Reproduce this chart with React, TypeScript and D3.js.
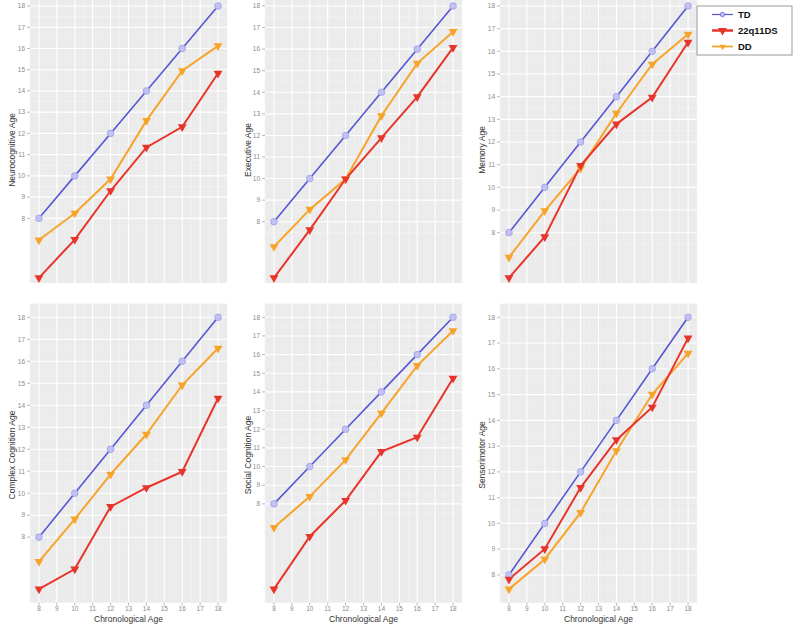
import React from "react";
import * as d3 from "d3";

const ages = [8, 10, 12, 14, 16, 18];
const domainNames = [
  "Neurocognitive Age",
  "Executive Age",
  "Memory Age",
  "Complex Cognition Age",
  "Social Cognition Age",
  "Sensorimotor Age",
];
const tdValues = [8, 10, 12, 14, 16, 18];
const q22Neuro = [5.2, 7.0, 9.3, 11.34, 12.31, 14.83];
const q22Exec = [5.4, 7.62, 9.98, 11.89, 13.79, 16.07];
const q22Memory = [6.01, 7.82, 10.96, 12.79, 13.97, 16.4];
const q22Complex = [5.64, 6.55, 9.39, 10.25, 10.98, 14.32];
const q22Social = [3.43, 6.25, 8.18, 10.8, 11.57, 14.73];
const q22Sensori = [7.83, 9.01, 11.39, 13.24, 14.51, 17.19];
const ddNeuro = [6.98, 8.24, 9.85, 12.6, 14.95, 16.12];
const ddExec = [6.84, 8.57, 9.98, 12.91, 15.34, 16.81];
const ddMemory = [6.91, 8.96, 10.84, 13.27, 15.43, 16.75];
const ddComplex = [6.89, 8.82, 10.86, 12.68, 14.92, 16.59];
const ddSocial = [6.73, 8.39, 10.36, 12.86, 15.41, 17.28];
const ddSensori = [7.45, 8.61, 10.42, 12.82, 15.01, 16.6];
const xTicks = [8, 9, 10, 11, 12, 13, 14, 15, 16, 17, 18];
const yTicks = [8, 9, 10, 11, 12, 13, 14, 15, 16, 17, 18];
const seriesNames = ["TD", "22q11DS", "DD"];

const q22All = [q22Neuro, q22Exec, q22Memory, q22Complex, q22Social, q22Sensori];
const ddAll = [ddNeuro, ddExec, ddMemory, ddComplex, ddSocial, ddSensori];

const COL_LEFT = [30, 265, 500];
const PANEL_W = 197;
const PANEL_H = 299;
const ROW_TOP = [-7.6, 303.7];
const TITLE_X = [12, 248, 482];
const TITLE_Y = [150, 455];

const BLUE = "#5656d6";
const RED = "#e8352b";
const ORANGE = "#f7a52a";
const FONT = "'Liberation Sans', Arial, Helvetica, sans-serif";

const triDown = d3.symbol().type(d3.symbolTriangle).size(34)() as string;
const triDownSmall = d3.symbol().type(d3.symbolTriangle).size(18)() as string;

function Panel({ idx }: { idx: number }) {
  const row = Math.floor(idx / 3);
  const col = idx % 3;
  const left = COL_LEFT[col];
  const top = ROW_TOP[row];
  const x = d3.scaleLinear().domain([7.5, 18.5]).range([left, left + PANEL_W]);
  const all = [...tdValues, ...q22All[idx], ...ddAll[idx]];
  const mn = d3.min(all) as number;
  const mx = d3.max(all) as number;
  const r = mx - mn;
  const y = d3
    .scaleLinear()
    .domain([mn - 0.05 * r, mx + 0.05 * r])
    .range([top + PANEL_H, top]);
  const [y0, y1] = y.domain();
  const minorY: number[] = [];
  for (let v = 7.5; v <= 18.5; v += 1) if (v > y0 && v < y1) minorY.push(v);
  const minorX: number[] = [];
  for (let v = 7.5; v <= 18.5; v += 1) minorX.push(v);
  const line = d3
    .line<[number, number]>()
    .x((d) => x(d[0]))
    .y((d) => y(d[1]));
  const mk = (vals: number[]) => ages.map((a, i) => [a, vals[i]] as [number, number]);
  const series = [
    { vals: tdValues, color: BLUE, w: 1.6 },
    { vals: ddAll[idx], color: ORANGE, w: 2 },
    { vals: q22All[idx], color: RED, w: 2 },
  ];
  const clipId = `clip-${idx}`;
  return (
    <g>
      <defs>
        <clipPath id={clipId}>
          <rect x={0} y={row === 0 ? 0 : 290} width={800} height={row === 0 ? 283 : 339} />
        </clipPath>
      </defs>
      <g clipPath={`url(#${clipId})`}>
        <rect x={left} y={top} width={PANEL_W} height={PANEL_H} fill="#ebebeb" />
        {minorX.map((v) => (
          <line key={"mx" + v} x1={x(v)} x2={x(v)} y1={top} y2={top + PANEL_H} stroke="#f4f4f4" strokeWidth={0.6} />
        ))}
        {minorY.map((v) => (
          <line key={"my" + v} x1={left} x2={left + PANEL_W} y1={y(v)} y2={y(v)} stroke="#f4f4f4" strokeWidth={0.6} />
        ))}
        {xTicks.map((v) => (
          <line key={"gx" + v} x1={x(v)} x2={x(v)} y1={top} y2={top + PANEL_H} stroke="#ffffff" strokeWidth={1.1} />
        ))}
        {yTicks.map((v) => (
          <line key={"gy" + v} x1={left} x2={left + PANEL_W} y1={y(v)} y2={y(v)} stroke="#ffffff" strokeWidth={1.1} />
        ))}
        {yTicks.map((v) => (
          <g key={"ty" + v}>
            <line x1={left - 3} x2={left} y1={y(v)} y2={y(v)} stroke="#888" strokeWidth={0.6} />
            <text x={left - 5} y={y(v)} dy="0.35em" textAnchor="end" fontSize={6.5} fill="#8a8a8a" fontFamily={FONT}>
              {v}
            </text>
          </g>
        ))}
        {row === 1 &&
          xTicks.map((v) => (
            <g key={"tx" + v}>
              <line x1={x(v)} x2={x(v)} y1={top + PANEL_H} y2={top + PANEL_H + 3} stroke="#888" strokeWidth={0.6} />
              <text x={x(v)} y={top + PANEL_H + 8.5} textAnchor="middle" fontSize={6.5} fill="#8a8a8a" fontFamily={FONT}>
                {v}
              </text>
            </g>
          ))}
        {row === 1 && (
          <text x={left + PANEL_W / 2} y={top + PANEL_H + 19.5} textAnchor="middle" fontSize={8.5} fill="#333" fontFamily={FONT}>
            Chronological Age
          </text>
        )}
        <text
          transform={`translate(${TITLE_X[col]},${TITLE_Y[row]}) rotate(-90)`}
          textAnchor="middle"
          dy="0.35em"
          fontSize={8.5}
          fill="#333"
          fontFamily={FONT}
        >
          {domainNames[idx]}
        </text>
        {series.map((s, si) => (
          <path key={"l" + si} d={line(mk(s.vals)) as string} fill="none" stroke={s.color} strokeWidth={s.w} />
        ))}
        {tdValues.map((v, i) => (
          <circle key={"pc" + i} cx={x(ages[i])} cy={y(v)} r={3.3} fill="#c2c2f3" stroke="#9a9aee" strokeWidth={0.8} />
        ))}
        {ddAll[idx].map((v, i) => (
          <path key={"pd" + i} d={triDown} transform={`translate(${x(ages[i])},${y(v)}) rotate(180)`} fill={ORANGE} />
        ))}
        {q22All[idx].map((v, i) => (
          <path key={"pq" + i} d={triDown} transform={`translate(${x(ages[i])},${y(v)}) rotate(180)`} fill={RED} />
        ))}
      </g>
    </g>
  );
}

function Legend() {
  const lx = 697;
  const ly = 6;
  const keys = [
    { name: seriesNames[0], color: BLUE, w: 1.2, kind: "circle" },
    { name: seriesNames[1], color: RED, w: 2.5, kind: "tri" },
    { name: seriesNames[2], color: ORANGE, w: 1.8, kind: "small" },
  ];
  return (
    <g>
      <rect x={lx} y={ly} width={95} height={49} fill="#fff" stroke="#999" strokeWidth={1} />
      {keys.map((k, i) => {
        const cy = ly + 8.5 + i * 16;
        return (
          <g key={k.name}>
            <line x1={lx + 15} x2={lx + 36} y1={cy} y2={cy} stroke={k.color} strokeWidth={k.w} />
            {k.kind === "circle" && <circle cx={lx + 25.5} cy={cy} r={2.2} fill="#c2c2f3" stroke={k.color} strokeWidth={0.7} />}
            {k.kind === "tri" && <path d={triDown} transform={`translate(${lx + 25.5},${cy}) rotate(180)`} fill={RED} />}
            {k.kind === "small" && <path d={triDownSmall} transform={`translate(${lx + 25.5},${cy}) rotate(180)`} fill={ORANGE} />}
            <text x={lx + 41} y={cy} dy="0.35em" fontSize={9.5} fontWeight="bold" fill="#111" fontFamily={FONT}>
              {k.name}
            </text>
          </g>
        );
      })}
    </g>
  );
}

export default function App() {
  return (
    <svg width={800} height={629} style={{ position: "absolute", left: 0, top: 0, background: "#fff" }}>
      <rect x={0} y={0} width={800} height={629} fill="#fff" />
      {[0, 1, 2, 3, 4, 5].map((i) => (
        <Panel key={i} idx={i} />
      ))}
      <Legend />
    </svg>
  );
}
